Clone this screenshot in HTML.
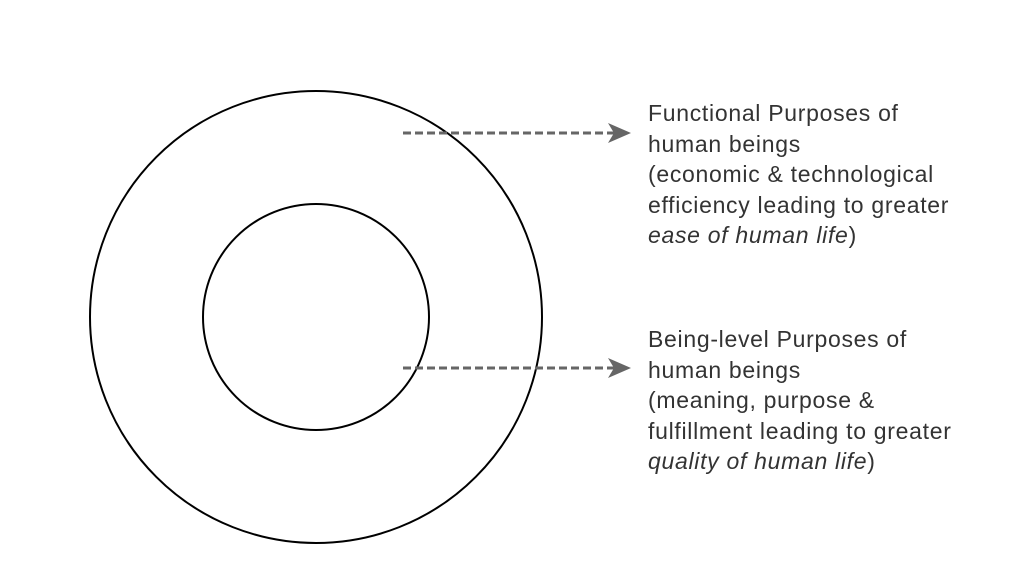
<!DOCTYPE html>
<html><head><style>
html,body{margin:0;padding:0;background:#fff;}
body{width:1011px;height:562px;position:relative;overflow:hidden;font-family:"Liberation Sans",sans-serif;}
.t{position:absolute;left:648px;font-size:23px;letter-spacing:0.7px;line-height:30.5px;color:#333;white-space:nowrap;}
</style></head><body>
<svg width="1011" height="562" style="position:absolute;left:0;top:0">
<circle cx="316" cy="317" r="226" fill="none" stroke="#000" stroke-width="2"/>
<circle cx="316" cy="317" r="113" fill="none" stroke="#000" stroke-width="2"/>
<line x1="403" y1="133" x2="618" y2="133" stroke="#666" stroke-width="3" stroke-dasharray="8,4"/>
<path d="M631,133 L608,123 L614,133 L608,143 Z" fill="#666"/>
<line x1="403" y1="368" x2="618" y2="368" stroke="#666" stroke-width="3" stroke-dasharray="8,4"/>
<path d="M631,368 L608,358 L614,368 L608,378 Z" fill="#666"/>
</svg>
<div class="t" style="top:98px">Functional Purposes of<br>human beings<br>(economic &amp; technological<br>efficiency leading to greater<br><i>ease of human life</i>)</div>
<div class="t" style="top:324px">Being-level Purposes of<br>human beings<br>(meaning, purpose &amp;<br>fulfillment leading to greater<br><i>quality of human life</i>)</div>
</body></html>
